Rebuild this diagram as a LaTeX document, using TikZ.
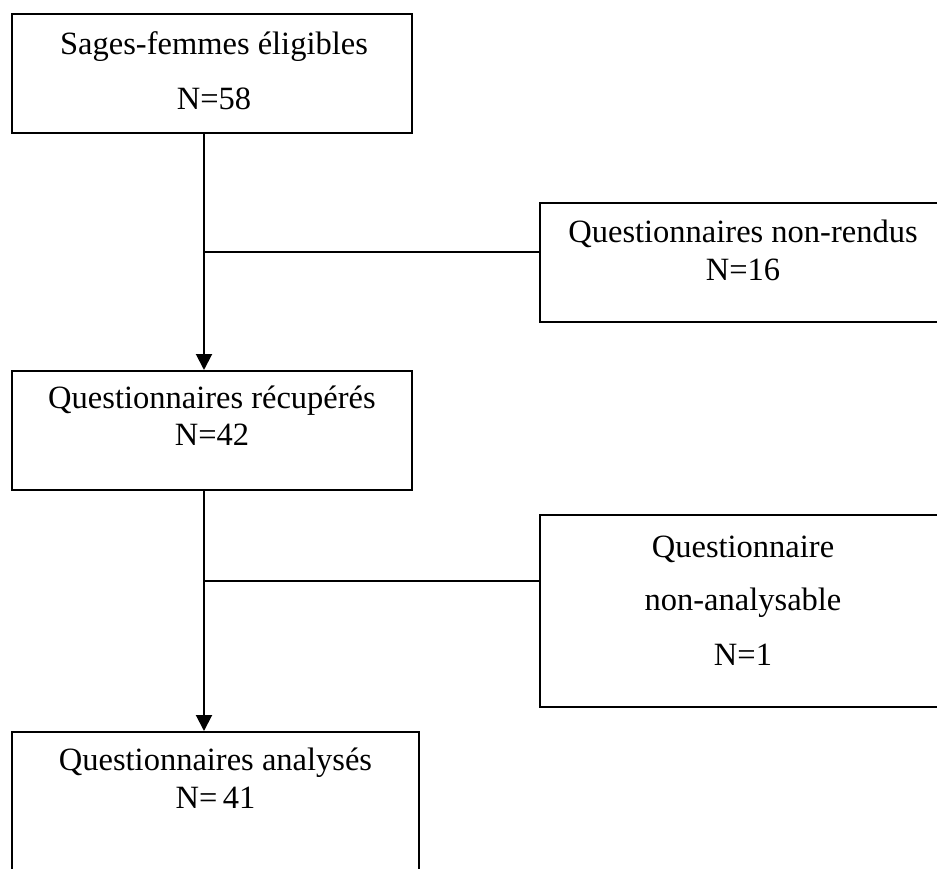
\documentclass[tikz,border=0pt]{standalone}
\usepackage{fontspec}
\setmainfont{Liberation Serif}
\usetikzlibrary{arrows.meta}
\begin{document}
\begin{tikzpicture}[x=1pt,y=-1pt,
  box/.style={draw=black, line width=2pt, rectangle, inner sep=0pt},
  txt/.style={anchor=base, inner sep=0pt, font=\fontsize{32.5}{38}\selectfont},
  link/.style={draw=black, line width=2pt},
  arr/.style={link, -{Triangle[width=16pt,length=16pt]}}]
\clip (0,0) rectangle (937,869);
\fill[white] (0,0) rectangle (937,869);
% boxes
\node[box, minimum width=400pt, minimum height=119pt] (b1) at (212,73.5) {};
\node[box, minimum width=406pt, minimum height=119pt] (b2) at (743,262.5) {};
\node[box, minimum width=400pt, minimum height=119pt] (b3) at (212,430.5) {};
\node[box, minimum width=406pt, minimum height=192pt] (b4) at (743,611) {};
\node[box, minimum width=407pt, minimum height=168pt] (b5) at (215.5,816) {};
% texts
\node[txt] (t1a) at (214,55) {Sages-femmes éligibles};
\node[txt] (t1b) at (214,110) {N=58};
\node[txt] (t2a) at (743,243) {Questionnaires non-rendus};
\node[txt] (t2b) at (743,280) {N=16};
\node[txt] (t3a) at (212,408) {Questionnaires récupérés};
\node[txt] (t3b) at (212,445) {N=42};
\node[txt] (t4a) at (743,557) {Questionnaire};
\node[txt] (t4b) at (743,610) {non-analysable};
\node[txt] (t4c) at (743,665) {N=1};
\node[txt] (t5a) at (215.5,770) {Questionnaires analysés};
\node[txt] (t5b) at (215.5,808) {N=\,41};
% junctions
\coordinate (j1) at (204,252);
\coordinate (j2) at (204,581);
% connectors
\draw[arr] (b1.south -| j1) -- (b3.north -| j1);
\draw[link] (j1) -- (j1 -| b2.west);
\draw[arr] (b3.south -| j2) -- (b5.north -| j2);
\draw[link] (j2) -- (j2 -| b4.west);
\end{tikzpicture}
\end{document}
